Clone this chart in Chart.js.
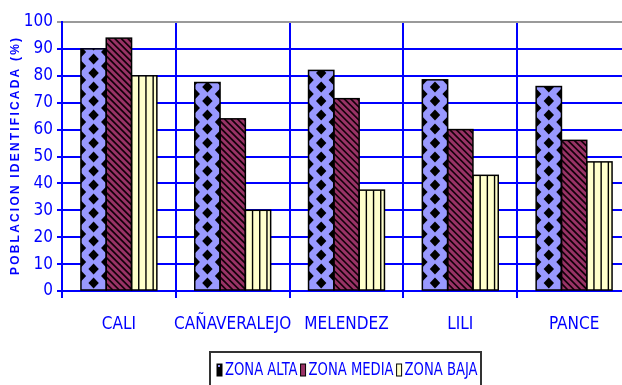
<!DOCTYPE html>
<html>
<head>
<meta charset="utf-8">
<script src="https://cdn.jsdelivr.net/npm/chart.js@4.4.1/dist/chart.umd.min.js"></script>
<style>
  html, body { margin: 0; padding: 0; background: #ffffff; overflow: hidden; }
  #wrap { width: 640px; height: 385px; }
</style>
</head>
<body>
<div id="wrap"><canvas id="c" width="640" height="385"></canvas></div>
<script>
// Sectores y porcentajes de población identificada por zona
const categories = ['CALI', 'CAÑAVERALEJO', 'MELENDEZ', 'LILI', 'PANCE'];
const zonaAlta  = [90, 77.5, 82, 78.5, 76];
const zonaMedia = [94, 64, 71.5, 60, 56];
const zonaBaja  = [80, 30, 37.5, 43, 48];
const seriesNames = ['ZONA ALTA', 'ZONA MEDIA', 'ZONA BAJA'];
const yTicks = [0, 10, 20, 30, 40, 50, 60, 70, 80, 90, 100];
const yTitle = 'POBLACION IDENTIFICADA (%)';

const BLUE = '#0000FF';
const NARROW = "'Liberation Sans Narrow', 'Arial Narrow', 'DejaVu Sans Condensed', sans-serif";

// Fill styles for each series: base colour plus a hatch drawn over it
const baseColors = ['#9999FF', '#993366', '#FFFFCC'];

function hatchDiamonds(ctx, L, T, W, B) {
  const step = 14, hw = 5.2, hh = 5.6;
  ctx.fillStyle = '#000';
  const diamond = (cx, cy) => {
    ctx.beginPath();
    ctx.moveTo(cx, cy - hh);
    ctx.lineTo(cx + hw, cy);
    ctx.lineTo(cx, cy + hh);
    ctx.lineTo(cx - hw, cy);
    ctx.closePath();
    ctx.fill();
  };
  for (let y = B - step / 2; y > T - step; y -= step) {
    diamond(L + W / 2, y);
    diamond(L, y - step / 2);
    diamond(L + W, y - step / 2);
  }
}

function hatchDiagonal(ctx, L, T, W, B) {
  const H = B - T, gap = 6.5;
  ctx.strokeStyle = '#14000a';
  ctx.lineWidth = 1.7;
  ctx.beginPath();
  for (let t = -H - gap; t < W + gap; t += gap) {
    ctx.moveTo(L + t, T);
    ctx.lineTo(L + t + H, B);
  }
  ctx.stroke();
}

function hatchVertical(ctx, L, T, W, B) {
  const gap = 7.2;
  ctx.strokeStyle = '#000';
  ctx.lineWidth = 1.4;
  ctx.beginPath();
  for (let x = L + gap; x < L + W - 2; x += gap) {
    ctx.moveTo(x, T);
    ctx.lineTo(x, B);
  }
  ctx.stroke();
}

const hatches = [hatchDiamonds, hatchDiagonal, hatchVertical];

// Draw the hatch inside every bar and outline it in black
const barHatch = {
  id: 'barHatch',
  afterDatasetsDraw(chart) {
    const ctx = chart.ctx;
    chart.data.datasets.forEach((ds, di) => {
      const meta = chart.getDatasetMeta(di);
      meta.data.forEach(el => {
        const p = el.getProps(['x', 'y', 'base', 'width'], true);
        const L = p.x - p.width / 2, T = Math.min(p.y, p.base), B = Math.max(p.y, p.base);
        ctx.save();
        ctx.beginPath();
        ctx.rect(L, T, p.width, B - T);
        ctx.clip();
        hatches[di](ctx, L, T, p.width, B);
        ctx.restore();
        ctx.save();
        ctx.strokeStyle = '#000';
        ctx.lineWidth = 1.5;
        ctx.strokeRect(L, T, p.width, B - T);
        ctx.restore();
      });
    });
  }
};

// Vertical axis title with widened letter spacing
const yAxisTitle = {
  id: 'yAxisTitle',
  afterDraw(chart) {
    const ctx = chart.ctx;
    const a = chart.chartArea;
    ctx.save();
    ctx.font = "bold 12px 'Liberation Sans', Arial, sans-serif";
    ctx.fillStyle = BLUE;
    ctx.textBaseline = 'middle';
    const spacing = 2.2;
    const chars = Array.from(yTitle);
    const widths = chars.map(ch => ctx.measureText(ch).width);
    const total = widths.reduce((s, w) => s + w, 0) + spacing * (chars.length - 1);
    ctx.translate(16, (a.top + a.bottom) / 2);
    ctx.rotate(-Math.PI / 2);
    let x = -total / 2;
    chars.forEach((ch, i) => {
      ctx.fillText(ch, x, 0);
      x += widths[i] + spacing;
    });
    ctx.restore();
  }
};

// Framed legend below the axis
const boxLegend = {
  id: 'boxLegend',
  afterDraw(chart) {
    const ctx = chart.ctx;
    const boxL = 210, boxR = 481, boxT = 352;
    ctx.save();
    ctx.strokeStyle = '#333';
    ctx.lineWidth = 2;
    ctx.strokeRect(boxL, boxT, boxR - boxL, 60);
    ctx.font = '17px ' + NARROW;
    ctx.textBaseline = 'middle';
    const squeeze = 0.86;
    let x = boxL + 7;
    const cy = 370;
    chart.data.datasets.forEach((ds, i) => {
      // swatch
      ctx.fillStyle = i === 0 ? '#000' : baseColors[i];
      ctx.fillRect(x, cy - 6, 5, 12);
      if (i === 0) { ctx.fillStyle = '#9999FF'; ctx.fillRect(x + 1, cy - 5, 2, 2); }
      ctx.strokeStyle = '#000';
      ctx.lineWidth = 1;
      ctx.strokeRect(x, cy - 6, 5, 12);
      x += 8;
      const w = ctx.measureText(ds.label).width * squeeze;
      ctx.save();
      ctx.translate(x, cy);
      ctx.scale(squeeze, 1);
      ctx.fillStyle = BLUE;
      ctx.fillText(ds.label, 0, 1);
      ctx.restore();
      x += w + 3;
    });
    ctx.restore();
  }
};

const seriesData = [zonaAlta, zonaMedia, zonaBaja];

new Chart(document.getElementById('c'), {
  type: 'bar',
  data: {
    labels: categories,
    datasets: seriesNames.map((name, i) => ({
      label: name,
      data: seriesData[i],
      backgroundColor: baseColors[i],
      borderWidth: 0,
      categoryPercentage: 0.667,
      barPercentage: 1.0
    }))
  },
  options: {
    responsive: false,
    devicePixelRatio: 1,
    animation: false,
    layout: { padding: { top: 22, right: 9, left: 0, bottom: 0 } },
    plugins: {
      legend: { display: false },
      tooltip: { enabled: false },
      title: { display: false }
    },
    scales: {
      x: {
        offset: true,
        grid: { color: BLUE, lineWidth: 2, tickLength: 7, offset: true },
        border: { color: BLUE, width: 2 },
        ticks: {
          color: BLUE,
          font: { family: NARROW, size: 17 },
          padding: 16,
          maxRotation: 0,
          autoSkip: false
        },
        afterFit(s) { s.height = 94; }
      },
      y: {
        min: 0,
        max: 100,
        afterBuildTicks(s) { s.ticks = yTicks.map(v => ({ value: v })); },
        grid: {
          color: c => (c.tick && c.tick.value === 100) ? '#9a9a9a' : BLUE,
          lineWidth: 2,
          tickLength: 5
        },
        border: { color: BLUE, width: 2 },
        ticks: {
          color: BLUE,
          font: { family: NARROW, size: 17 },
          padding: 4
        },
        afterFit(s) { s.width = 62; }
      }
    }
  },
  plugins: [barHatch, yAxisTitle, boxLegend]
});
</script>
</body>
</html>
